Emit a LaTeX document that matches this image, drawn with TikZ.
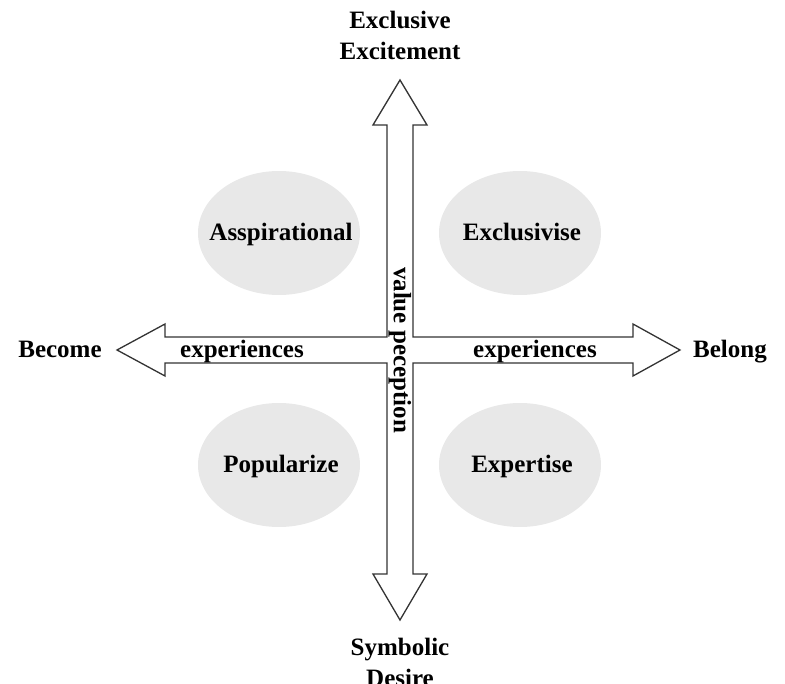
\documentclass[tikz,border=0pt]{standalone}
\usepackage{fontspec}
\setmainfont{Liberation Serif}
\usetikzlibrary{shapes.geometric}
\begin{document}
\begin{tikzpicture}[x=1pt,y=-1pt,
  lbl/.style={font=\fontsize{25}{31}\selectfont\bfseries, inner sep=0pt, align=center},
  bl/.style={lbl, anchor=base},
  blob/.style={ellipse, fill=black!9, draw=none, minimum width=162pt, minimum height=124pt, inner sep=0pt},
  crossarrow/.style={draw=black!80, line width=1.3pt, fill=white, line join=miter}]
\useasboundingbox (0,0) rectangle (785,684);
% quadrant ellipses
\node[blob] (asp) at (279,233) {};
\node[blob] (exc) at (520,233) {};
\node[blob] (pop) at (279,465) {};
\node[blob] (exp) at (520,465) {};
\node[bl] (tasp) at (281,241) {Asspirational};
\node[bl] (texc) at (522,241) {Exclusivise};
\node[bl] (tpop) at (281,473) {Popularize};
\node[bl] (texp) at (522,473) {Expertise};
% cross-shaped double arrow (union outline)
\coordinate (top) at (400,80);
\coordinate (bot) at (400,620);
\coordinate (lft) at (117,350);
\coordinate (rgt) at (680,350);
\draw[crossarrow] (top) -- (427,125) -- (413,125) -- (413,337) -- (633,337) -- (633,324)
  -- (rgt) -- (633,376) -- (633,363) -- (413,363) -- (413,574) -- (427,574)
  -- (bot) -- (373,574) -- (387,574) -- (387,363) -- (165,363) -- (165,376)
  -- (lft) -- (165,324) -- (165,337) -- (387,337) -- (387,125) -- (373,125) -- cycle;
% arrow texts
\node[bl] (expl) at (242,358) {experiences};
\node[bl] (expr) at (535,358) {experiences};
\node[lbl, rotate=-90] (val) at (400,350) {value peception};
% end labels
\node[bl] (north) at (400,60) {Exclusive\\Excitement};
\node[bl] (south) at (400,686) {Symbolic\\Desire};
\node[bl] (west) at (60,358) {Become};
\node[bl] (east) at (730,358) {Belong};
\end{tikzpicture}
\end{document}
